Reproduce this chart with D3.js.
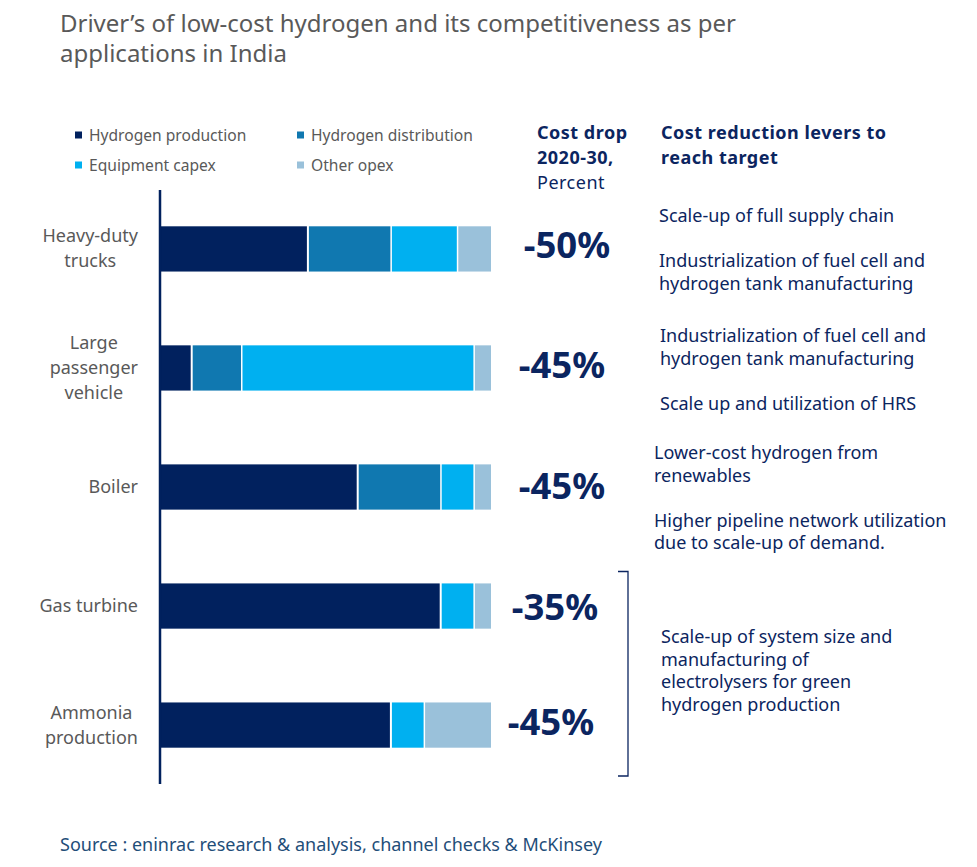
<!DOCTYPE html>
<html>
<head>
<meta charset="utf-8">
<script src="https://cdn.jsdelivr.net/npm/d3@7"></script>
<style>
  html, body { margin: 0; padding: 0; background: #ffffff; }
  svg { display: block; }
  text { font-family: "Noto Sans", "Open Sans", sans-serif; }
</style>
</head>
<body>
<svg id="chart" width="977" height="867"></svg>
<script>
// ---------- DATA ----------
const categories = ["Heavy-duty trucks", "Large passenger vehicle", "Boiler", "Gas turbine", "Ammonia production"];
const categoryLines = [["Heavy-duty", "trucks"], ["Large", "passenger", "vehicle"], ["Boiler"], ["Gas turbine"], ["Ammonia", "production"]];
const seriesNames = ["Hydrogen production", "Hydrogen distribution", "Equipment capex", "Other opex"];
const hydrogenProduction   = [45, 10, 60, 85, 70];
const hydrogenDistribution = [25, 15, 25, 0, 0];
const equipmentCapex       = [20, 70, 10, 10, 10];
const otherOpex            = [10, 5, 5, 5, 20];
const costDrop = ["-50%", "-45%", "-45%", "-35%", "-45%"];
const leverTexts = [
  [["Scale-up of full supply chain"], ["Industrialization of fuel cell and", "hydrogen tank manufacturing"]],
  [["Industrialization of fuel cell and", "hydrogen tank manufacturing"], ["Scale up and utilization of HRS"]],
  [["Lower-cost hydrogen from", "renewables"], ["Higher pipeline network utilization", "due to scale-up of demand."]]
];
const sharedLever = ["Scale-up of system size and", "manufacturing of", "electrolysers for green", "hydrogen production"];
const titleLines = ["Driver\u2019s of low-cost hydrogen and its competitiveness as per", "applications in India"];
const sourceText = "Source : eninrac research & analysis, channel checks & McKinsey";

// ---------- STYLE / LAYOUT ----------
const colors = ["#01215e", "#1078b0", "#00b0f0", "#9ac1da"];
const navy = "#0b2560";
const gray = "#595959";
const svg = d3.select("#chart");

const x = d3.scaleLinear().domain([0, 100]).range([159, 491]);
const y = d3.scaleBand().domain(categories).range([190, 784]).paddingInner(0.62).paddingOuter(0.305);
const color = d3.scaleOrdinal().domain(seriesNames).range(colors);

// Title
svg.append("g").selectAll("text").data(titleLines).join("text")
  .attr("x", 60).attr("y", (d, i) => 31.5 + i * 30)
  .attr("font-size", 24).attr("fill", gray)
  .attr("font-family", "'Open Sans', sans-serif")
  .text(d => d);

// Legend
const legend = svg.append("g").selectAll("g").data(seriesNames).join("g")
  .attr("transform", (d, i) => `translate(${i % 2 === 0 ? 75 : 297},${i < 2 ? 135 : 165})`);
legend.append("rect").attr("x", 0).attr("y", -3.5).attr("width", 7).attr("height", 7).attr("fill", d => color(d));
legend.append("text").attr("x", 14).attr("y", 6).attr("font-size", 15.6).attr("fill", gray).text(d => d);

// Stacked bars
const table = categories.map((c, i) => ({
  category: c,
  "Hydrogen production": hydrogenProduction[i],
  "Hydrogen distribution": hydrogenDistribution[i],
  "Equipment capex": equipmentCapex[i],
  "Other opex": otherOpex[i]
}));
const stacked = d3.stack().keys(seriesNames)(table);
const layers = svg.append("g").selectAll("g").data(stacked).join("g").attr("fill", d => color(d.key));
layers.selectAll("rect").data(d => d.filter(p => p[1] - p[0] > 0)).join("rect")
  .attr("x", p => x(p[0]) + (p[0] > 0 ? 0.5 : 0))
  .attr("y", p => y(p.data.category))
  .attr("width", p => Math.max(0, x(p[1]) - x(p[0]) - (p[1] >= 99.99 ? 0.5 : 1.5)))
  .attr("height", y.bandwidth());

// Axis line
svg.append("line").attr("x1", 160).attr("x2", 160).attr("y1", 190).attr("y2", 784)
  .attr("stroke", "#01215e").attr("stroke-width", 2.5);

// Category labels (block right-aligned, lines centered)
const labelRight = 138;
categories.forEach((c, i) => {
  const lines = categoryLines[i];
  const g = svg.append("g");
  const n = lines.length;
  const cy = y(c) + y.bandwidth() / 2;
  const ts = g.selectAll("text").data(lines).join("text")
    .attr("y", (d, j) => cy + (j - (n - 1) / 2) * 25 + 6)
    .attr("font-size", 18).attr("fill", gray)
    .attr("text-anchor", "middle").text(d => d);
  let maxW = 0;
  ts.each(function () { maxW = Math.max(maxW, this.getComputedTextLength()); });
  ts.attr("x", labelRight - maxW / 2);
});

// Column headers
const hdr = svg.append("g").attr("fill", navy).attr("font-size", 18).attr("letter-spacing", 0.5);
hdr.append("text").attr("x", 537).attr("y", 139).attr("font-weight", "bold").text("Cost drop");
hdr.append("text").attr("x", 537).attr("y", 164).attr("font-weight", "bold").text("2020-30,");
hdr.append("text").attr("x", 537).attr("y", 189).text("Percent");
hdr.append("text").attr("x", 661).attr("y", 139).attr("font-weight", "bold").text("Cost reduction levers to");
hdr.append("text").attr("x", 661).attr("y", 164).attr("font-weight", "bold").text("reach target");

// Cost drop values
const dropCenterX = [567, 562, 562, 555, 551];
const dropNudgeY = [-4, -3, -1, 1, -3];
svg.append("g").selectAll("text").data(costDrop).join("text")
  .attr("x", (d, i) => dropCenterX[i])
  .attr("y", (d, i) => y(categories[i]) + y.bandwidth() / 2 + 13 + dropNudgeY[i])
  .attr("text-anchor", "middle").attr("font-size", 36.5).attr("font-weight", "bold")
  .attr("fill", navy).text(d => d);

// Lever texts
const leverX = [659, 660, 654];
const leverBaselines = [[[222], [267, 290]], [[342, 365], [410]], [[459, 482], [527, 549]]];
leverTexts.forEach((groups, i) => {
  groups.forEach((lines, k) => {
    svg.append("g").selectAll("text").data(lines).join("text")
      .attr("x", leverX[i]).attr("y", (d, j) => leverBaselines[i][k][j])
      .attr("font-size", 18).attr("fill", navy).text(d => d);
  });
});
svg.append("g").selectAll("text").data(sharedLever).join("text")
  .attr("x", 661).attr("y", (d, j) => 643 + j * 22.7)
  .attr("font-size", 18).attr("fill", navy).text(d => d);

// Bracket
svg.append("path")
  .attr("d", "M618,571.5 H628 V776 H618")
  .attr("fill", "none").attr("stroke", navy).attr("stroke-width", 1.3);

// Source
svg.append("text").attr("x", 60).attr("y", 851).attr("font-size", 18).attr("fill", "#1f4e79")
  .attr("font-family", "'Open Sans', sans-serif")
  .text(sourceText);
</script>
</body>
</html>
